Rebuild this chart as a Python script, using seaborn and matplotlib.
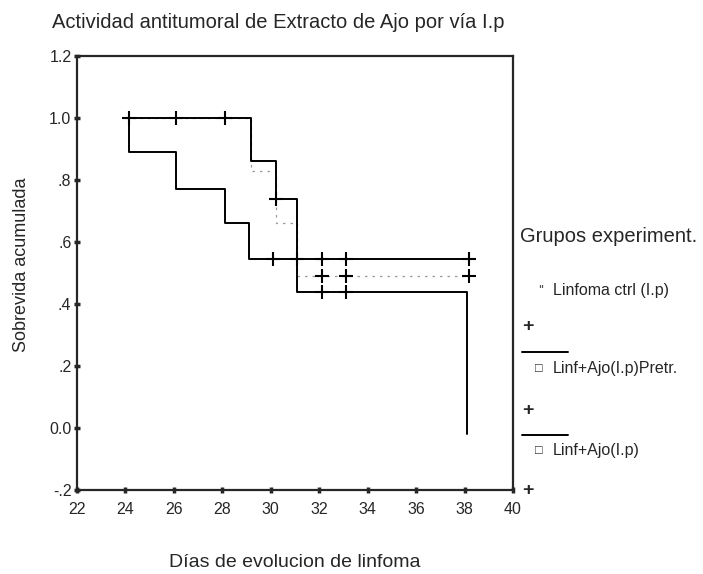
import numpy as np
import pandas as pd
import matplotlib
matplotlib.use("Agg")
import matplotlib.pyplot as plt
import seaborn as sns

# Curvas de Kaplan-Meier (dias, sobrevida acumulada)
grupos = ["Linfoma ctrl (I.p)", "Linf+Ajo(I.p)Pretr.", "Linf+Ajo(I.p)"]

ctrl_dias = [24.0, 29.2, 30.2, 31.1, 38.2]
ctrl_surv = [1.0, 0.83, 0.66, 0.49, 0.49]
ctrl_cens_dias = [32.1, 33.1, 38.2]
ctrl_cens_surv = [0.49, 0.49, 0.49]

pretr_dias = [24.0, 24.15, 26.1, 28.1, 29.1, 38.2]
pretr_surv = [1.0, 0.89, 0.77, 0.66, 0.545, 0.545]
pretr_cens_dias = [30.1, 31.1, 32.1, 33.1, 38.2]
pretr_cens_surv = [0.545, 0.545, 0.545, 0.545, 0.545]

ajo_dias = [24.0, 29.2, 30.2, 31.1, 38.1, 38.1]
ajo_surv = [1.0, 0.86, 0.74, 0.44, 0.44, -0.02]
ajo_cens_dias = [24.15, 26.1, 28.1, 30.2, 32.1, 33.1]
ajo_cens_surv = [1.0, 1.0, 1.0, 0.74, 0.44, 0.44]

x_ticks = [22, 24, 26, 28, 30, 32, 34, 36, 38, 40]
y_ticks = [-0.2, 0.0, 0.2, 0.4, 0.6, 0.8, 1.0, 1.2]
y_tick_labels = ["-.2", "0.0", ".2", ".4", ".6", ".8", "1.0", "1.2"]

sns.set_style("ticks")
plt.rcParams["font.family"] = ["Liberation Sans", "DejaVu Sans"]

W, H = 703, 574
fig = plt.figure(figsize=(W / 100, H / 100), dpi=100)
ax = fig.add_axes([77 / W, 1 - 490 / H, 436 / W, 434 / H])


def px(x, y):
    return x / W, 1 - y / H


curvas = [
    (ctrl_dias, ctrl_surv, ctrl_cens_dias, ctrl_cens_surv, "#9a9a9a", (0, (2, 4)), 0.9),
    (pretr_dias, pretr_surv, pretr_cens_dias, pretr_cens_surv, "black", "-", 1.4),
    (ajo_dias, ajo_surv, ajo_cens_dias, ajo_cens_surv, "black", "-", 1.4),
]

for dias, surv, cd, cs, color, ls, lw in curvas:
    df = pd.DataFrame({"dias": dias, "surv": surv})
    sns.lineplot(data=df, x="dias", y="surv", ax=ax, drawstyle="steps-post",
                 estimator=None, sort=False, color=color, linestyle=ls, lw=lw)
    dc = pd.DataFrame({"dias": cd, "surv": cs})
    sns.scatterplot(data=dc, x="dias", y="surv", ax=ax, marker="+", s=90,
                    color="black", linewidth=1.5, zorder=5)

ax.set_xlim(22, 40)
ax.set_ylim(-0.2, 1.2)
ax.set_xticks(x_ticks)
ax.set_yticks(y_ticks)
ax.set_yticklabels(y_tick_labels)
ax.tick_params(direction="inout", length=4, width=2.5, labelsize=11.5, pad=2)
ax.tick_params(axis="x", pad=7)
for s in ax.spines.values():
    s.set_linewidth(1.6)
    s.set_visible(True)

ax.set_xlabel("Días de evolucion de linfoma", fontsize=14)
ax.set_ylabel("Sobrevida acumulada", fontsize=13)
ax.xaxis.set_label_coords(0.5, -0.148)
ax.yaxis.set_label_coords(-0.108, 0.52)

fig.text(*px(52, 22), "Actividad antitumoral de Extracto de Ajo por vía I.p",
         fontsize=14.5, ha="left", va="center")

# Leyenda al estilo SPSS
fig.text(*px(520, 237), "Grupos experiment.", fontsize=14.5, ha="left", va="center")
fig.text(*px(538, 291), "''", fontsize=11, ha="left", va="center", color="#555555")
fig.text(*px(553, 290), grupos[0], fontsize=11.5, ha="left", va="center")
fig.text(*px(522, 327), "+", fontsize=14, fontweight="bold", ha="left", va="center")
fig.add_artist(plt.Line2D([522 / W, 568 / W], [1 - 352 / H] * 2, color="black", lw=1.4))
fig.text(*px(535, 369), "\u25a1", fontsize=9, ha="left", va="center")
fig.text(*px(553, 369), grupos[1], fontsize=11.5, ha="left", va="center")
fig.text(*px(522, 411), "+", fontsize=14, fontweight="bold", ha="left", va="center")
fig.add_artist(plt.Line2D([522 / W, 568 / W], [1 - 435 / H] * 2, color="black", lw=1.4))
fig.text(*px(535, 451), "\u25a1", fontsize=9, ha="left", va="center")
fig.text(*px(553, 451), grupos[2], fontsize=11.5, ha="left", va="center")
fig.text(*px(522, 491), "+", fontsize=14, fontweight="bold", ha="left", va="center")

fig.savefig("out.png", dpi=100)
